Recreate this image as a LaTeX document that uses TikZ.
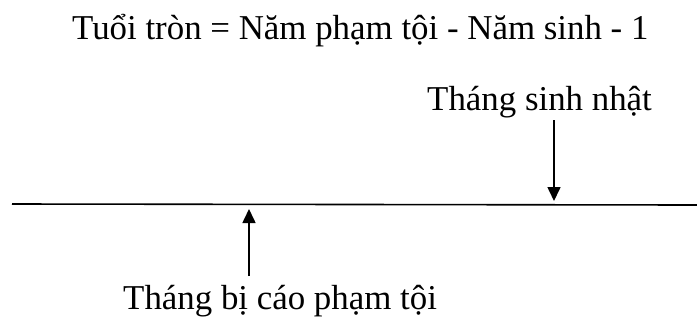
\documentclass[tikz,border=0pt]{standalone}
\usepackage{fontspec}
\setmainfont{Liberation Serif}
\usepackage{xcolor}
\usepackage{tikz}
\usetikzlibrary{arrows.meta,positioning,calc}
\definecolor{TLInk}  {HTML}{000000}
\definecolor{TLPaper}{HTML}{FFFFFF}

\tikzset{
  lbl/.style={font=\fontsize{35}{42}\selectfont,text=TLInk,anchor=base west,inner sep=0pt},
  mark arrow/.style={draw=TLInk,line width=1.6bp,-{Triangle[length=14bp,width=13bp]}}
}

\begin{document}
\begin{tikzpicture}[x=1bp,y=-1bp]
    \fill[TLPaper](0,0) rectangle (697,321);
    \useasboundingbox (0,0) rectangle (697,321);
    % formula
    \node[lbl] (formula) at (72,39) {Tuổi tròn = Năm phạm tội - Năm sinh - 1};
    % time line
    \coordinate (lineL) at (12,204);
    \coordinate (lineR) at (697,205);
    \draw[TLInk,line width=1.6bp] (lineL) -- (lineR);
    % birthday month
    \node[lbl] (birth) at (427,110) {Tháng sinh nhật};
    \coordinate (birthTop) at (554,120);
    \coordinate (birthTip) at (554,201);
    \draw[mark arrow] (birthTop) -- (birthTip);
    % offence month
    \node[lbl] (crime) at (123,309) {Tháng bị cáo phạm tội};
    \coordinate (crimeTail) at (249,276);
    \coordinate (crimeTip) at (249,209);
    \draw[mark arrow] (crimeTail) -- (crimeTip);
  \end{tikzpicture}
\end{document}
